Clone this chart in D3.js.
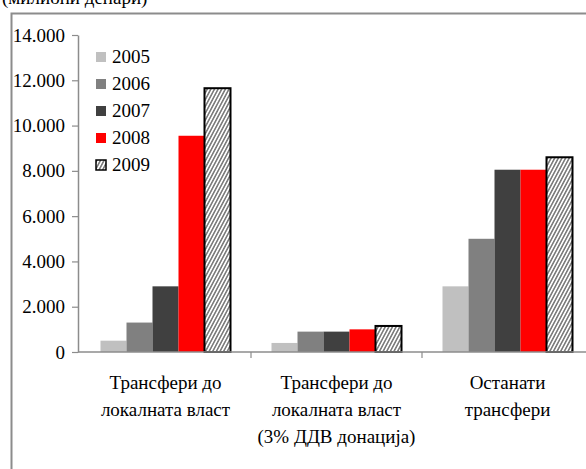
<!DOCTYPE html>
<html><head><meta charset="utf-8">
<script src="https://cdn.jsdelivr.net/npm/d3@7"></script>
<style>html,body{margin:0;padding:0;background:#fff;}svg{display:block;} .t{font-family:"Liberation Serif","Times New Roman",Tinos,"Nimbus Roman","DejaVu Serif",serif;}</style>
</head><body>
<svg id="c" width="586" height="469"></svg>
<script>
const categories = [["Трансфери до","локалната власт"],["Трансфери до","локалната власт","(3% ДДВ донација)"],["Останати","трансфери"]];
const years = ["2005","2006","2007","2008","2009"];
const v2005 = [500, 400, 2900];
const v2006 = [1300, 900, 5000];
const v2007 = [2900, 900, 8050];
const v2008 = [9550, 1000, 8050];
const v2009 = [11650, 1150, 8600];
const yTicks = [0,2000,4000,6000,8000,10000,12000,14000];
const colors = ["#c0c0c0","#808080","#404040","#ff0000","url(#hatch)"];
const series = [v2005,v2006,v2007,v2008,v2009];
const fs = 19;

const svg = d3.select("#c");
const defs = svg.append("defs");
const pat = defs.append("pattern").attr("id","hatch").attr("patternUnits","userSpaceOnUse")
  .attr("width",3.2).attr("height",3.2).attr("patternTransform","rotate(28)");
pat.append("rect").attr("width",3.2).attr("height",3.2).attr("fill","#fff");
pat.append("line").attr("x1",0.8).attr("y1",0).attr("x2",0.8).attr("y2",3.2).attr("stroke","#6a6a6a").attr("stroke-width",1.4);

// clipped title
svg.append("text").attr("class","t").attr("x",2).attr("y",4).attr("font-size",fs).text("(милиони денари)");

// frame
svg.append("path").attr("d","M11.5,469 V13.5 H586").attr("fill","none").attr("stroke","#8c8c8c").attr("stroke-width",2);

const x0 = d3.scaleBand().domain(d3.range(categories.length)).range([80,593]).paddingInner(0).paddingOuter(0);
const y = d3.scaleLinear().domain([0,14000]).range([352,35]);
const bw = 26;
const x1 = d3.scaleBand().domain(years).range([-bw*2.5, bw*2.5]);

const yAxis = d3.axisLeft(y).tickValues(yTicks).tickSize(6).tickSizeOuter(0)
  .tickFormat(d => d3.format(",")(d).replace(/,/g,"."));
const gy = svg.append("g").attr("transform","translate(78,0)").call(yAxis);
gy.attr("font-family",null).attr("font-size",null);
gy.select(".domain").attr("stroke","#8c8c8c").attr("stroke-width",1.5);
gy.selectAll(".tick line").attr("stroke","#8c8c8c").attr("stroke-width",1.2);
gy.selectAll(".tick text").attr("class","t").attr("font-size",fs).attr("fill","#000").attr("x",-13);

// bars
series.forEach((s,i)=>{
  svg.append("g").selectAll("rect").data(s).join("rect")
    .attr("x",(d,j)=> x0(j)+x0.bandwidth()/2 + x1(years[i]))
    .attr("y",d=>y(d)).attr("width",x1.bandwidth()).attr("height",d=>y(0)-y(d))
    .attr("fill",colors[i])
    .attr("stroke", i===4 ? "#000" : "none").attr("stroke-width", i===4?2:0);
});

// x axis
const gx = svg.append("g").attr("transform","translate(0,352)");
gx.append("line").attr("x1",78).attr("x2",586).attr("y1",0).attr("y2",0).attr("stroke","#8c8c8c").attr("stroke-width",1.5);
[0,1,2].forEach(j=>{
  gx.append("line").attr("x1",x0(j)+x0.bandwidth()).attr("x2",x0(j)+x0.bandwidth()).attr("y1",0).attr("y2",6).attr("stroke","#8c8c8c").attr("stroke-width",1.2);
});
categories.forEach((lines,j)=>{
  const t = svg.append("text").attr("class","t").attr("text-anchor","middle").attr("font-size",fs).attr("fill","#000");
  lines.forEach((ln,k)=>{
    t.append("tspan").attr("x",x0(j)+x0.bandwidth()/2).attr("y",389+k*27).text(ln);
  });
});

// legend
const lg = svg.append("g");
years.forEach((yr,i)=>{
  const yy = 63 + i*27;
  lg.append("rect").attr("x",96).attr("y",yy-11).attr("width",10).attr("height",10)
    .attr("fill",colors[i]).attr("stroke", i===4?"#000":"none").attr("stroke-width",i===4?1.5:0);
  lg.append("text").attr("class","t").attr("x",112).attr("y",yy).attr("font-size",fs).attr("fill","#000").text(yr);
});
</script>
</body></html>
